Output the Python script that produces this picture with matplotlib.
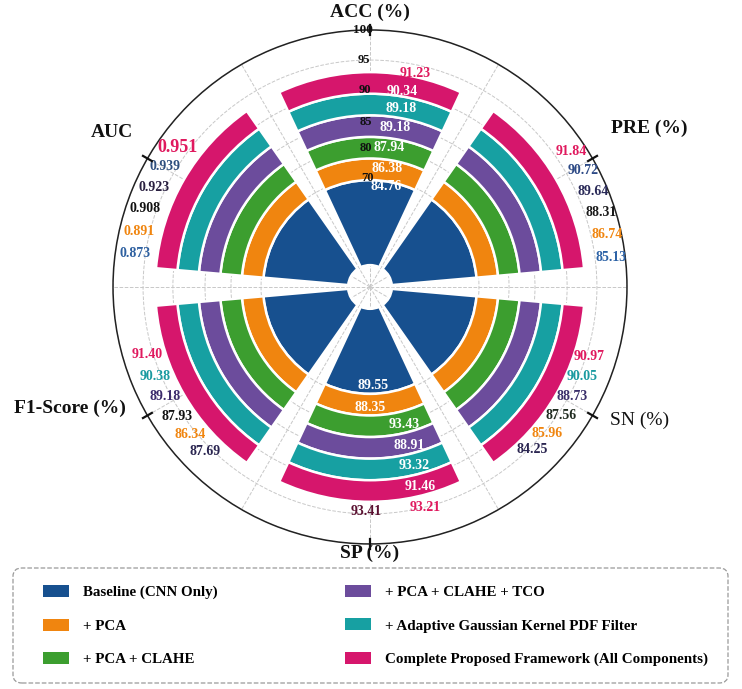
import numpy as np
import matplotlib
matplotlib.use("Agg")
import matplotlib.pyplot as plt
from matplotlib.patches import Patch, FancyBboxPatch

# ---- data -------------------------------------------------------------
metrics = ["ACC (%)", "PRE (%)", "SN (%)", "SP (%)", "F1-Score (%)", "AUC"]
methods = [
    "Baseline (CNN Only)",
    "+ PCA",
    "+ PCA + CLAHE",
    "+ PCA + CLAHE + TCO",
    "+ Adaptive Gaussian Kernel PDF Filter",
    "Complete Proposed Framework (All Components)",
]
acc = [84.76, 86.38, 87.94, 89.18, 89.18, 90.34]
pre = [85.13, 86.74, 88.31, 89.64, 90.72, 91.84]
sn = [84.25, 85.96, 87.56, 88.73, 90.05, 90.97]
sp = [89.55, 88.35, 93.43, 88.91, 93.32, 91.46]
f1 = [87.69, 86.34, 87.93, 89.18, 90.38, 91.40]
auc = [0.873, 0.891, 0.908, 0.923, 0.939, 0.951]
acc_extra = ["91.23"]
sp_extra = ["93.41", "93.21"]
rtick_values = [70, 80, 85, 90, 95, 100]

# ---- style / layout ---------------------------------------------------
colors = ["#17508f", "#f0850f", "#3c9e2f", "#6c4c9c", "#17a0a2", "#d6166c"]
magenta = "#e0195e"
col_label_colors = {
    "PRE (%)": ["#2c62a6", "#f0850f", "#1a1a1a", "#2a2a58", "#2d4a86", magenta],
    "AUC": ["#2e60a0", "#f0850f", "#111111", "#2a2040", "#2e4f7e", magenta],
    "SN (%)": ["#2a2550", "#f0850f", "#1f2a1f", "#3a2f6a", "#1a9aa0", magenta],
    "F1-Score (%)": ["#2a2550", "#f0850f", "#111111", "#3a2a6a", "#1a9aa0", magenta],
}
# label column: start angle, angular step, radius
col_label_pos = {
    "PRE (%)": (56, 5.4, 94.5),
    "SN (%)": (107.5, 5.5, 89.5),
    "F1-Score (%)": (253, -5.6, 90.5),
    "AUC": (306, -5.6, 92.5),
}
axis_label_pos = [(0, 107), (60.4, 125), (116.4, 117), (180, 103.5), (248, 126), (301, 117)]
rtick_radii = [42.4, 54.1, 64.2, 76.7, 88.3, 100]

HOLE = 8.5
BASE_TOP = 41.6
RING = 8.4
WIDTH = np.deg2rad(50)
SERIF = "Liberation Serif"

values = [acc, pre, sn, sp, f1, auc]
angles = np.deg2rad(np.arange(0, 360, 60))

fig = plt.figure(figsize=(7.42, 6.89), dpi=100)
ax = fig.add_axes([0.1523, 0.2105, 0.6927, 0.746], projection="polar")
ax.set_theta_zero_location("N")
ax.set_theta_direction(-1)
ax.set_ylim(0, 100)

# stacked rings per metric
for k, color in enumerate(colors):
    if k == 0:
        bottom = HOLE
        height = BASE_TOP - HOLE
    else:
        bottom = BASE_TOP + (k - 1) * RING
        height = RING
    ax.bar(angles, height, width=WIDTH, bottom=bottom, color=color,
           edgecolor="white", linewidth=1.8, zorder=3)

# grid
ax.set_thetagrids(np.arange(0, 360, 30), labels=[])
ax.set_rgrids(rtick_radii, labels=[])
ax.grid(True, linestyle="--", color="#c8c8c8", linewidth=0.7)
ax.spines["polar"].set_color("#222222")
ax.spines["polar"].set_linewidth(1.1)

for r, v in zip(rtick_radii, rtick_values):
    ax.text(np.deg2rad(-1.5), r, str(v), ha="center", va="center",
            fontsize=9.5 if v == 100 else 9, fontweight="bold", family=SERIF,
            color="#111111", zorder=5)

# small ticks across the outer circle
for th in angles:
    ax.plot([th, th], [98, 102], color="#111111", lw=1.6, clip_on=False, zorder=6)

# axis labels
for name, (deg, r) in zip(metrics, axis_label_pos):
    weight = "normal" if name == "SN (%)" else "bold"
    ax.text(np.deg2rad(deg), r, name, ha="center", va="center", fontsize=14,
            fontweight=weight, family=SERIF, color="#111111", clip_on=False)

# labels inside ACC and SP rings
acc_r = [39.5, 46.5, 54.8, 62.8, 70.5, 77.0]
acc_th = [9, 8, 8, 9, 10, 9.5]
for v, r, th in zip(acc, acc_r, acc_th):
    ax.text(np.deg2rad(th), r, "%.2f" % v, ha="center", va="center",
            fontsize=10, fontweight="bold", family=SERIF, color="white", zorder=5)
ax.text(np.deg2rad(12), 85.0, acc_extra[0], ha="center", va="center",
        fontsize=10, fontweight="bold", family=SERIF, color=magenta, zorder=5)

sp_r = [38.5, 47.0, 55.2, 63.5, 71.5, 80.0]
sp_th = [178, 180, 166, 166, 166, 166]
for v, r, th in zip(sp, sp_r, sp_th):
    ax.text(np.deg2rad(th), r, "%.2f" % v, ha="center", va="center",
            fontsize=10, fontweight="bold", family=SERIF, color="white", zorder=5)
ax.text(np.deg2rad(181), 87.5, sp_extra[0], ha="center", va="center",
        fontsize=10, fontweight="bold", family=SERIF, color="#5a1030", zorder=5)
ax.text(np.deg2rad(166), 88.3, sp_extra[1], ha="center", va="center",
        fontsize=10, fontweight="bold", family=SERIF, color=magenta, zorder=5)

# label columns outside the other wedges (top: complete ... bottom: baseline)
for name, vals in zip(metrics, values):
    if name not in col_label_pos:
        continue
    start, step, r = col_label_pos[name]
    for j, k in enumerate(range(5, -1, -1)):
        text = "%.3f" % vals[k] if name == "AUC" else "%.2f" % vals[k]
        size = 13 if (name == "AUC" and k == 5) else 10
        ax.text(np.deg2rad(start + j * step), r, text, ha="center", va="center",
                fontsize=size, fontweight="bold", family=SERIF,
                color=col_label_colors[name][k], zorder=5, clip_on=False)

# legend: dashed rounded box plus two columns
W, H = 742.0, 689.0
box = FancyBboxPatch((13 / W, 1 - 683 / H), 715 / W, 115 / H,
                     boxstyle="round,pad=0,rounding_size=0.012",
                     transform=fig.transFigure, facecolor="white",
                     edgecolor="#9a9a9a", linestyle="--", linewidth=0.9)
fig.patches.append(box)

handles = [Patch(facecolor=c, edgecolor="none") for c in colors]
legend_kw = dict(loc="upper left", frameon=False,
                 prop={"family": SERIF, "size": 10.8, "weight": "bold"},
                 handlelength=1.75, handleheight=0.85, handletextpad=0.9,
                 labelspacing=1.28, borderpad=0, borderaxespad=0)
fig.legend(handles[:3], methods[:3], bbox_to_anchor=(43 / W, 1 - 585 / H), **legend_kw)
fig.legend(handles[3:], methods[3:], bbox_to_anchor=(345 / W, 1 - 585 / H), **legend_kw)

fig.savefig("out.png", dpi=100, facecolor="white")
